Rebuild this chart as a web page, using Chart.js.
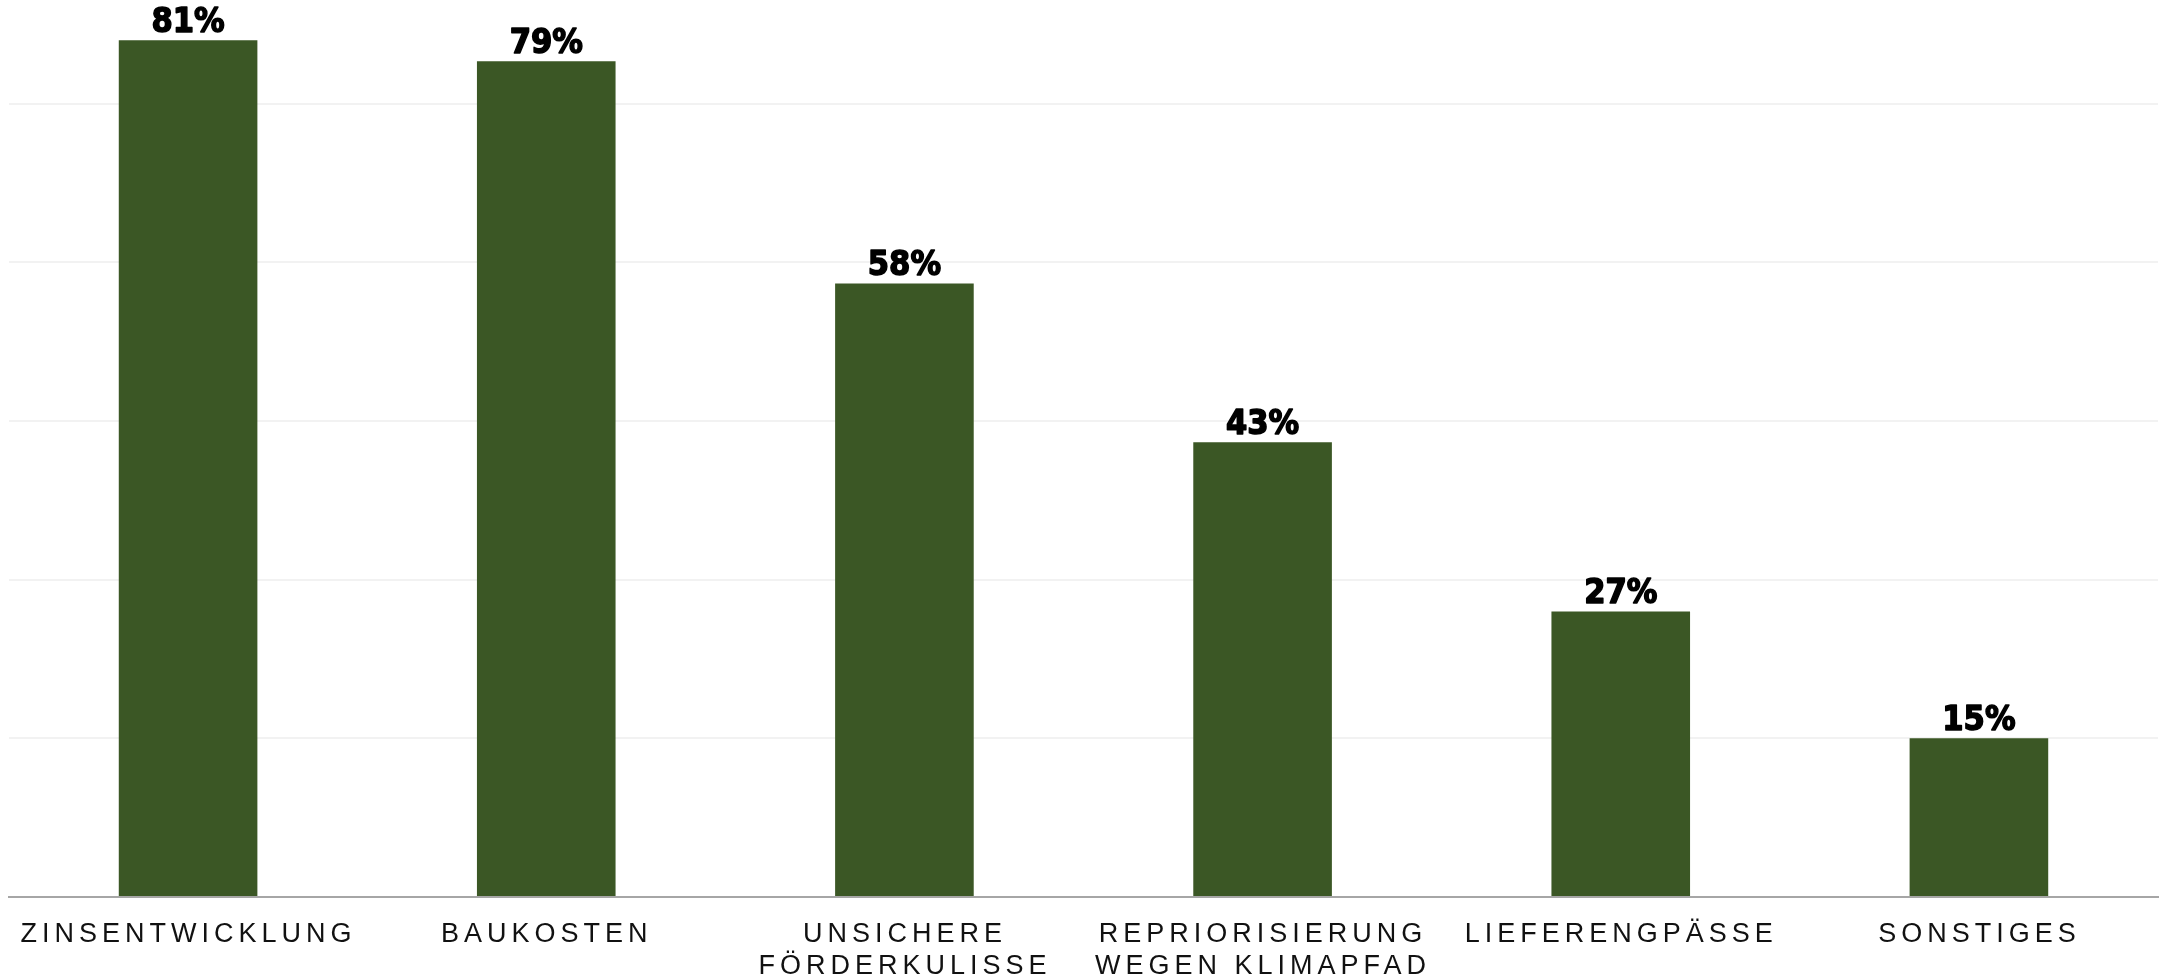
<!DOCTYPE html>
<html>
<head>
<meta charset="utf-8">
<script src="https://cdn.jsdelivr.net/npm/chart.js@4.4.0/dist/chart.umd.min.js"></script>
<style>
  html, body { margin: 0; padding: 0; background: #fff; }
  #wrap { width: 2160px; height: 979px; }
</style>
</head>
<body>
<div id="wrap"><canvas id="chart" width="2160" height="979"></canvas></div>
<script>
// Gründe für verschobene Projekte (Anteil der Nennungen in %)
const categories = [
    ['ZINSENTWICKLUNG'],
    ['BAUKOSTEN'],
    ['UNSICHERE', 'FÖRDERKULISSE'],
    ['REPRIORISIERUNG', 'WEGEN KLIMAPFAD'],
    ['LIEFERENGPÄSSE'],
    ['SONSTIGES']
];
const shares = [81, 79, 58, 43, 27, 15];
const gridStep = 15;

const barColor = '#3b5725';

// value labels above each bar: heavy, slightly condensed
const barLabels = {
    id: 'barLabels',
    afterDatasetsDraw(chart) {
        const ctx = chart.ctx;
        const meta = chart.getDatasetMeta(0);
        const squeeze = 0.9;
        ctx.save();
        ctx.font = 'bold 34px "DejaVu Sans"';
        ctx.fillStyle = '#000';
        ctx.strokeStyle = '#000';
        ctx.lineWidth = 1.6;
        ctx.lineJoin = 'round';
        ctx.textAlign = 'center';
        ctx.textBaseline = 'alphabetic';
        meta.data.forEach((bar, i) => {
            const text = shares[i] + '%';
            ctx.save();
            ctx.translate(bar.x, bar.y - 8);
            ctx.scale(squeeze, 1);
            ctx.strokeText(text, 0, 0);
            ctx.fillText(text, 0, 0);
            ctx.restore();
        });
        ctx.restore();
    }
};

// spaced category names under the axis
const categoryLabels = {
    id: 'categoryLabels',
    afterDraw(chart) {
        const ctx = chart.ctx;
        const x = chart.scales.x;
        const spacing = 5;
        ctx.save();
        ctx.font = '27px "Liberation Sans"';
        ctx.letterSpacing = spacing + 'px';
        ctx.fillStyle = '#111';
        ctx.textAlign = 'center';
        ctx.textBaseline = 'alphabetic';
        categories.forEach((lines, i) => {
            const cx = x.getPixelForValue(i) + spacing / 2 - 2;
            lines.forEach((line, j) => {
                ctx.fillText(line, cx, chart.chartArea.bottom + 45 + j * 32);
            });
        });
        ctx.restore();
    }
};

new Chart(document.getElementById('chart').getContext('2d'), {
    type: 'bar',
    data: {
        labels: categories,
        datasets: [{
            data: shares,
            backgroundColor: barColor,
            borderWidth: 0,
            barPercentage: 0.387,
            categoryPercentage: 1
        }]
    },
    options: {
        responsive: false,
        animation: false,
        devicePixelRatio: 1,
        layout: { padding: { left: 9, right: 2, top: 0, bottom: 0 } },
        plugins: {
            legend: { display: false },
            tooltip: { enabled: false }
        },
        scales: {
            x: {
                z: 1,
                grid: { display: false, drawTicks: false },
                ticks: { display: false },
                border: { display: true, color: '#a6a6a6', width: 2 },
                afterFit: (scale) => { scale.height = 82; }
            },
            y: {
                min: 0,
                max: 84.8,
                grid: { color: '#f2f2f2', lineWidth: 2, drawTicks: false },
                border: { display: false },
                ticks: { display: false, stepSize: gridStep },
                afterBuildTicks: (scale) => {
                    scale.ticks = scale.ticks.filter(t => t.value % gridStep === 0);
                },
                afterFit: (scale) => { scale.width = 0; }
            }
        }
    },
    plugins: [barLabels, categoryLabels]
});
</script>
</body>
</html>
